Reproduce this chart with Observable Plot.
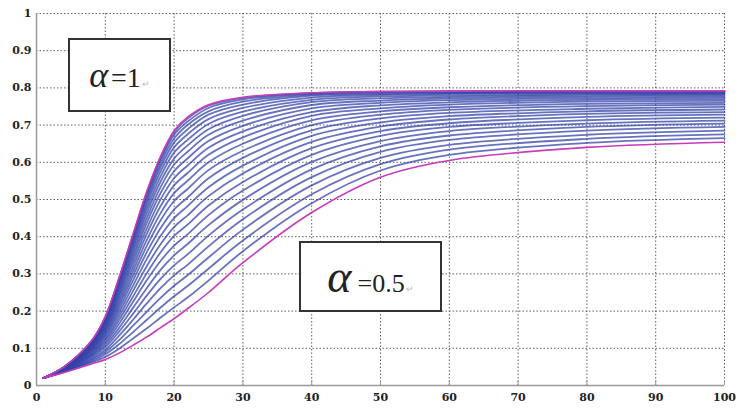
<!DOCTYPE html>
<html>
<head>
<meta charset="utf-8">
<script src="https://cdn.jsdelivr.net/npm/d3@7"></script>
<script src="https://cdn.jsdelivr.net/npm/@observablehq/plot@0.6"></script>
<style>
  html, body { margin: 0; padding: 0; background: #fff; }
  #wrap { position: relative; width: 739px; height: 408px; overflow: hidden; }
  .box { position: absolute; box-sizing: border-box; border: 2px solid #333; background: #fff;
         display: flex; align-items: center; justify-content: center; font-family: "Liberation Serif", serif; color: #222; }
  .al { font-style: italic; }
  .mk { color: #bbb; font-size: 9px; margin-left: 1px; }
</style>
</head>
<body>
<div id="wrap"></div>
<script>
// ---- axis ticks ----
const xTicks = [0, 10, 20, 30, 40, 50, 60, 70, 80, 90, 100];
const yTicks = [0, 0.1, 0.2, 0.3, 0.4, 0.5, 0.6, 0.7, 0.8, 0.9, 1];
const yTickLabels = ["0", "0.1", "0.2", "0.3", "0.4", "0.5", "0.6", "0.7", "0.8", "0.9", "1"];

// ---- sample x positions (columns) ----
const xs = [1, 4, 8, 10, 12, 14, 16, 18, 20, 22, 25, 30, 40, 50, 60, 80, 100];

// ---- boundary curves (magenta) ----
const alpha1  = [0.02, 0.05, 0.12, 0.185, 0.29, 0.405, 0.52, 0.615, 0.685, 0.722, 0.755, 0.775, 0.787, 0.790, 0.791, 0.792, 0.792];
const alpha05 = [0.02, 0.035, 0.058, 0.07, 0.087, 0.108, 0.13, 0.155, 0.18, 0.207, 0.25, 0.33, 0.465, 0.56, 0.605, 0.64, 0.654];

// ---- intermediate blue curves: values of each curve (top to bottom) at each column ----
const b_x1   = [.02,.02,.02,.02,.02,.02,.02,.02,.02,.02,.02,.02,.02,.02,.02,.02,.02,.02,.02,.02,.02,.02,.02,.02];
const b_x4   = [.050,.050,.049,.049,.049,.048,.048,.047,.047,.046,.046,.045,.044,.044,.043,.042,.042,.041,.040,.039,.038,.038,.037,.036];
const b_x8   = [.120,.119,.117,.116,.115,.113,.111,.109,.107,.104,.102,.099,.097,.094,.091,.088,.085,.082,.079,.076,.072,.069,.065,.062];
const b_x10  = [.184,.182,.180,.178,.175,.172,.168,.164,.160,.156,.151,.147,.142,.137,.132,.126,.121,.115,.109,.103,.096,.090,.084,.077];
const b_x12  = [.288,.285,.282,.277,.272,.266,.260,.253,.246,.239,.231,.222,.214,.205,.196,.186,.176,.166,.155,.145,.134,.122,.111,.099];
const b_x14  = [.403,.398,.393,.386,.378,.370,.361,.351,.341,.330,.318,.306,.294,.281,.267,.253,.238,.224,.208,.192,.176,.160,.143,.126];
const b_x16  = [.517,.511,.504,.495,.485,.474,.462,.449,.436,.421,.406,.390,.374,.357,.339,.320,.301,.282,.261,.241,.220,.198,.176,.153];
const b_x18  = [.611,.605,.596,.586,.574,.561,.547,.532,.516,.499,.481,.462,.443,.422,.401,.379,.357,.334,.310,.286,.261,.235,.209,.182];
const b_x20  = [.681,.674,.664,.653,.640,.626,.610,.594,.576,.557,.538,.517,.496,.473,.450,.426,.402,.376,.350,.323,.296,.268,.240,.210];
const b_x22  = [.718,.710,.701,.689,.676,.661,.646,.629,.611,.592,.572,.551,.529,.506,.483,.458,.433,.407,.381,.353,.325,.297,.268,.237];
const b_x25  = [.752,.746,.737,.728,.716,.703,.689,.674,.657,.639,.620,.600,.579,.557,.533,.509,.484,.458,.431,.403,.374,.344,.314,.282];
const b_x30  = [.773,.769,.763,.755,.746,.736,.725,.712,.698,.683,.667,.650,.631,.612,.591,.570,.547,.524,.499,.473,.447,.419,.390,.361];
const b_x40  = [.786,.785,.782,.779,.774,.768,.762,.754,.745,.735,.725,.713,.700,.686,.671,.655,.638,.620,.601,.581,.560,.538,.514,.490];
const b_x50  = [.790,.789,.787,.784,.781,.777,.772,.766,.760,.753,.745,.737,.728,.718,.707,.696,.684,.671,.657,.643,.628,.612,.595,.578];
const b_x60  = [.791,.790,.788,.786,.784,.780,.776,.772,.767,.761,.755,.748,.741,.733,.724,.715,.705,.695,.684,.672,.660,.647,.634,.620];
const b_x80  = [.792,.791,.790,.788,.786,.783,.780,.776,.772,.768,.763,.757,.751,.744,.737,.730,.722,.713,.704,.695,.685,.674,.663,.652];
const b_x100 = [.792,.791,.790,.788,.786,.784,.781,.778,.774,.770,.765,.760,.755,.749,.742,.735,.728,.720,.712,.704,.695,.685,.675,.665];
const blueCols = [b_x1, b_x4, b_x8, b_x10, b_x12, b_x14, b_x16, b_x18, b_x20, b_x22, b_x25, b_x30, b_x40, b_x50, b_x60, b_x80, b_x100];

// ---- build tables ----
const blueRows = [];
for (let k = 0; k < b_x1.length; k++) {
  xs.forEach((x, j) => blueRows.push({curve: k, x, y: blueCols[j][k]}));
}
const a1Rows  = xs.map((x, j) => ({x, y: alpha1[j]}));
const a05Rows = xs.map((x, j) => ({x, y: alpha05[j]}));

const gridStyle = {stroke: "#555", strokeOpacity: 0.95, strokeWidth: 1, strokeDasharray: "1.5,2"};

const chart = Plot.plot({
  width: 739,
  height: 408,
  marginLeft: 36,
  marginRight: 15,
  marginTop: 13,
  marginBottom: 23,
  x: {domain: [0, 100], label: null},
  y: {domain: [0, 1], label: null},
  style: {background: "#fff", color: "#222", fontFamily: "'DejaVu Serif', serif"},
  marks: [
    Plot.gridX(xTicks.slice(1), gridStyle),
    Plot.gridY(yTicks.slice(1), gridStyle),
    Plot.ruleX([0], {stroke: "#999", strokeWidth: 1.5}),
    Plot.ruleY([0], {stroke: "#999", strokeWidth: 1.5}),
    Plot.axisX(xTicks, {tickSize: -5, tickPadding: 13, stroke: "#999", fontWeight: "bold", fontSize: 11, label: null}),
    Plot.axisY(yTicks, {tickSize: 0, tickPadding: 5, fontWeight: "bold", fontSize: 11, label: null,
                        tickFormat: (d, i) => yTickLabels[i]}),
    Plot.line(blueRows, {x: "x", y: "y", z: "curve", stroke: "#3343a8", strokeWidth: 1.8, strokeOpacity: 0.75, curve: "catmull-rom"}),
    Plot.line(a05Rows, {x: "x", y: "y", stroke: "#c73cb8", strokeWidth: 1.6, curve: "catmull-rom"}),
    Plot.line(a1Rows, {x: "x", y: "y", stroke: "#c73cb8", strokeWidth: 1.6, curve: "catmull-rom"})
  ]
});

const wrap = document.getElementById("wrap");
wrap.appendChild(chart);

const box1 = document.createElement("div");
box1.className = "box";
box1.style.cssText = "left:68px;top:38px;width:103px;height:74px;";
box1.innerHTML = '<span style="white-space:nowrap"><span class="al" style="font-size:36px">α</span><span style="font-size:28px;margin-left:3px">=1</span><span class="mk">↵</span></span>';
wrap.appendChild(box1);

const box2 = document.createElement("div");
box2.className = "box";
box2.style.cssText = "left:299px;top:241px;width:143px;height:71px;";
box2.innerHTML = '<span style="white-space:nowrap"><span class="al" style="font-size:46px">α</span><span style="font-size:26px;margin-left:6px">=0.5</span><span class="mk">↵</span></span>';
wrap.appendChild(box2);
</script>
</body>
</html>
